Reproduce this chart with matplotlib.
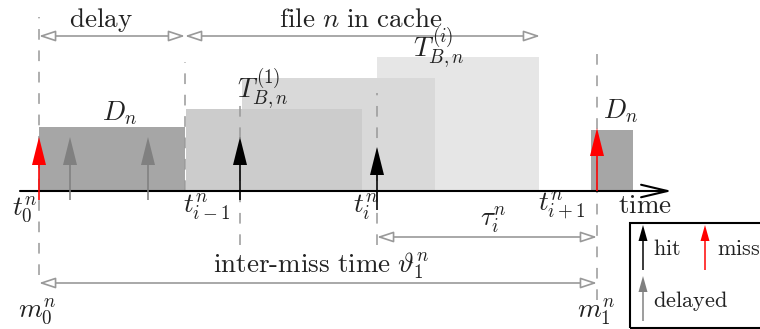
import matplotlib
matplotlib.use("Agg")
import matplotlib.pyplot as plt
from matplotlib.patches import Rectangle

plt.rcParams['mathtext.fontset'] = 'cm'
plt.rcParams['font.family'] = ['DejaVu Serif']

# time axis in pixel-like units, heights above the time line
# blocks: left edge, right edge, height, grey level (drawn back to front)
block_left = [377, 242, 186, 39, 591]
block_right = [539, 435, 362, 185, 633]
block_height = [134, 113, 82, 64, 61]
block_color = ['#e6e6e6', '#d9d9d9', '#cccccc', '#a6a6a6', '#a6a6a6']

# request arrows: position, tail, tip, colour
req_x = [39, 70, 148, 240, 377, 597]
req_tail = [-9, -9, -9, -9, -19, 0]
req_tip = [54, 54, 54, 54, 44, 63]
req_color = ['red', 'gray', 'gray', 'black', 'black', 'red']

# dashed guide lines
guide_x = [39, 185, 240, 377, 597]
guide_top = [174, 129, 93, 98, 146]
guide_bottom = [-84, 0, -54, -54, -109]

# dimension arrows: start, end, height
span_start = [39, 185, 377, 39]
span_end = [185, 540, 597, 597]
span_y = [155, 155, -46, -92]

# legend entries
legend_labels = ['hit', 'miss', 'delayed']
legend_colors = ['black', 'red', 'gray']

fig = plt.figure(figsize=(7.6, 3.29), dpi=100)
ax = fig.add_axes([0, 0, 1, 1])
ax.set_xlim(0, 760)
ax.set_ylim(-138, 191)
ax.axis('off')

# grey blocks
ax.bar(block_left, block_height, width=[r - l for l, r in zip(block_left, block_right)],
       align='edge', color=block_color, zorder=1)

# dashed guides
ax.vlines(guide_x, guide_bottom, guide_top, colors='#999999', lw=1.1,
          linestyles=(0, (7, 7)), zorder=2)

# time axis
ax.annotate('', xy=(672, 0), xytext=(20, 0),
            arrowprops=dict(arrowstyle='->,head_length=1.9,head_width=0.45',
                            color='black', lw=1.5, shrinkA=0, shrinkB=0), zorder=3)

# requests
for x, y0, y1, c in zip(req_x, req_tail, req_tip, req_color):
    ax.arrow(x, y0, 0, y1 - y0, width=1.6, head_width=14, head_length=28,
             length_includes_head=True, fc=c, ec='none', zorder=4)

# dimension arrows
for x0, x1, y in zip(span_start, span_end, span_y):
    ax.annotate('', xy=(x1, y), xytext=(x0, y),
                arrowprops=dict(arrowstyle='<|-|>,head_length=1.0,head_width=0.33',
                                fc='white', ec='#999999', lw=1.2,
                                shrinkA=0, shrinkB=0), zorder=3)

fs = 19.5
txt = dict(fontsize=fs, va='baseline', color='#222222')
ax.text(101, 164, r'$\mathrm{delay}$', ha='center', **txt)
ax.text(361, 164, r'$\mathrm{file}\ n\ \mathrm{in\ cache}$', ha='center', **txt)
ax.text(102, 71, r'$D_n$', ha='left', **txt)
ax.text(603, 73, r'$D_n$', ha='left', **txt)
ax.text(237, 93, r'$T_{B,n}^{(1)}$', ha='left', **txt)
ax.text(413, 134, r'$T_{B,n}^{(i)}$', ha='left', **txt)
ax.text(12, -24, r'$t_0^n$', ha='left', **txt)
ax.text(183, -21, r'$t_{i-1}^n$', ha='left', **txt)
ax.text(353, -21, r'$t_i^n$', ha='left', **txt)
ax.text(538, -19, r'$t_{i+1}^n$', ha='left', **txt)
ax.text(618, -22, r'$\mathrm{time}$', ha='left', **txt)
ax.text(480, -34, r'$\tau_i^n$', ha='left', **txt)
ax.text(321, -81, r'$\mathrm{inter\text{-}miss\ time}\ \vartheta_1^n$', ha='center', **txt)
ax.text(18, -126, r'$m_0^n$', ha='left', **txt)
ax.text(577, -126, r'$m_1^n$', ha='left', **txt)

# legend box
ax.add_patch(Rectangle((630, -137), 150, 105, fill=False, ec='black', lw=1.5, zorder=5))
leg_x = [643, 705, 643]
leg_y = [-79, -79, -130]
leg_text_x = [653, 717, 653]
leg_text_y = [-64, -64, -116]
for lab, c, x, y, tx, ty in zip(legend_labels, legend_colors, leg_x, leg_y, leg_text_x, leg_text_y):
    ax.arrow(x, y, 0, 45, width=1.5, head_width=9, head_length=16,
             length_includes_head=True, fc=c, ec='none', zorder=5)
    ax.text(tx, ty, r'$\mathrm{' + lab + '}$', fontsize=16, va='baseline',
            ha='left', color='#222222')

fig.savefig('out.png', dpi=100)
